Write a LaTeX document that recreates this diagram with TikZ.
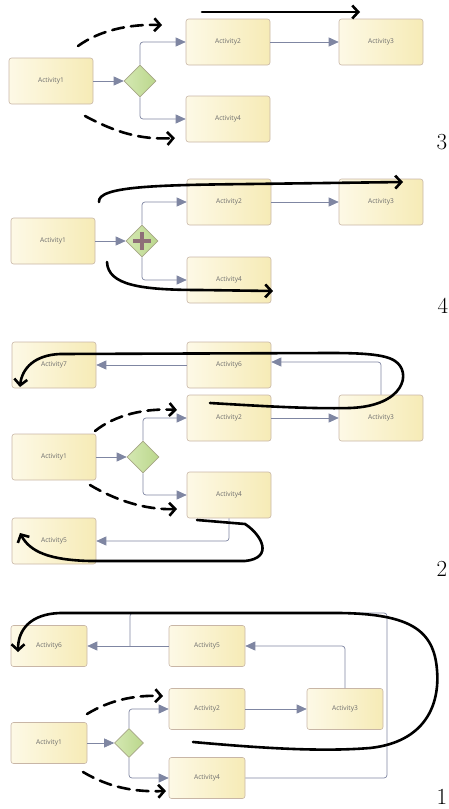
\documentclass[tikz,border=0pt]{standalone}
\usepackage{fontspec}
\usetikzlibrary{shapes.geometric,arrows.meta}
\newfontfamily\actfont{Open Sans}

\definecolor{actleft}{HTML}{FDF9E6}
\definecolor{actright}{HTML}{F6EBB6}
\definecolor{actborder}{HTML}{C8B6A6}
\definecolor{acttext}{HTML}{6C6C6C}
\definecolor{gateleft}{HTML}{D4E8B2}
\definecolor{gateright}{HTML}{BBD78C}
\definecolor{gateborder}{HTML}{A6A686}
\definecolor{flowcol}{HTML}{7F86A2}
\definecolor{pluscol}{HTML}{8E6E78}

\tikzset{
  act/.style={rectangle,rounded corners=2.5pt,draw=actborder,line width=0.6pt,
    left color=actleft,right color=actright,minimum width=84pt,minimum height=46pt,
    inner sep=0pt,font=\actfont\fontsize{6.6}{8}\selectfont,text=acttext},
  gate/.style={diamond,aspect=1,draw=gateborder,line width=0.6pt,
    left color=gateleft,right color=gateright,minimum width=32pt,minimum height=32pt,inner sep=0pt},
  flowline/.style={draw=flowcol,line width=0.7pt,rounded corners=3pt},
  flow/.style={flowline,-{Triangle[length=10pt,width=9pt]}},
  ink/.style={line width=2.6pt,line cap=round,-{Straight Barb[length=6pt,width=13pt]}},
  inkdash/.style={ink,dash pattern=on 12pt off 7pt},
  panelno/.style={font=\fontsize{23}{23}\selectfont}
}

\begin{document}
\begin{tikzpicture}[x=1pt,y=-1pt]
\useasboundingbox (0,0) rectangle (449,809);

% --- 3 ---
\node[act] (p3a1) at (51,81) {Activity1};
\node[gate] (p3gw) at (140,81) {};
\node[act] (p3a2) at (228,42) {Activity2};
\node[act] (p3a3) at (381,42) {Activity3};
\node[act] (p3a4) at (228,119) {Activity4};
\node[panelno] (p3no) at (442,142) {3};

\draw[flow] (p3a1) -- (p3gw);
\draw[flow] (p3gw.north) |- (p3a2.west);
\draw[flow] (p3gw.south) |- (p3a4.west);
\draw[flow] (p3a2) -- (p3a3);

\draw[inkdash] (78,46) .. controls (100,30) and (130,24) .. (162,25);
\draw[inkdash] (85,116) .. controls (115,132) and (140,140) .. (175,138);
\draw[ink] (202,12) -- (360,12);

% --- 4 ---
\node[act] (p4a1) at (53,241) {Activity1};
\node[gate] (p4gw) at (142,241) {};
\node[act] (p4a2) at (229,202) {Activity2};
\node[act] (p4a3) at (381,202) {Activity3};
\node[act] (p4a4) at (229,280) {Activity4};
\node[panelno] (p4no) at (443,306) {4};

\draw[pluscol,line width=3.2pt] (p4gw.center) ++(-9,0) -- ++(18,0);
\draw[pluscol,line width=3.2pt] (p4gw.center) ++(0,-9) -- ++(0,18);

\draw[flow] (p4a1) -- (p4gw);
\draw[flow] (p4gw.north) |- (p4a2.west);
\draw[flow] (p4gw.south) |- (p4a4.west);
\draw[flow] (p4a2) -- (p4a3);

\draw[ink] (99,202) .. controls (97,186) and (160,185) .. (250,184) -- (403,182);
\draw[ink] (107,262) .. controls (108,285) and (140,290) .. (200,290) -- (273,291);

% --- 2 ---
\node[act] (p2a7) at (54,365) {Activity7};
\node[act] (p2a6) at (229,365) {Activity6};
\node[act] (p2a2) at (229,418) {Activity2};
\node[act] (p2a3) at (381,418) {Activity3};
\node[act] (p2a1) at (54,457) {Activity1};
\node[gate] (p2gw) at (143,457) {};
\node[act] (p2a4) at (229,495) {Activity4};
\node[act] (p2a5) at (54,541) {Activity5};
\node[panelno] (p2no) at (442,569) {2};

\draw[flow] (p2a1) -- (p2gw);
\draw[flow] (p2gw.north) |- (p2a2.west);
\draw[flow] (p2gw.south) |- (p2a4.west);
\draw[flow] (p2a2) -- (p2a3);
\draw[flow] (p2a3.north) |- ([yshift=3pt]p2a6.east);
\draw[flow] (p2a6) -- (p2a7);
\draw[flow] (p2a4.south) |- (p2a5.east);

\draw[inkdash] (95,431) .. controls (115,415) and (145,408) .. (177,410);
\draw[inkdash] (90,485) .. controls (115,500) and (145,510) .. (177,509);
\draw[ink] (210,403) .. controls (260,406) and (310,409) .. (350,408)
  .. controls (405,406) and (412,372) .. (395,361)
  .. controls (385,354) and (360,353) .. (330,353) -- (60,354)
  .. controls (35,355) and (22,368) .. (20,387);
\draw[ink] (197,520) -- (245,524) .. controls (262,535) and (274,558) .. (245,561)
  -- (90,561) .. controls (50,560) and (30,552) .. (20,533);

% --- 1 ---
\begin{scope}[act/.append style={minimum width=76pt,minimum height=41pt},
  gate/.append style={minimum width=29pt,minimum height=29pt}]
\node[act] (p1a6) at (49,646) {Activity6};
\node[act] (p1a5) at (207,646) {Activity5};
\node[act] (p1a2) at (207,709) {Activity2};
\node[act] (p1a3) at (345,709) {Activity3};
\node[act] (p1a1) at (49,743) {Activity1};
\node[gate] (p1gw) at (129,743) {};
\node[act] (p1a4) at (207,778) {Activity4};
\end{scope}
\node[panelno] (p1no) at (442,797) {1};
\coordinate (p1c) at (387,613);
\coordinate (p1j) at (130,646);

\draw[flow] (p1a1) -- (p1gw);
\draw[flow] (p1gw.north) |- (p1a2.west);
\draw[flow] (p1gw.south) |- (p1a4.west);
\draw[flow] (p1a2) -- (p1a3);
\draw[flow] (p1a3.north) |- (p1a5.east);
\draw[flow] (p1a5) -- (p1a6);
\draw[flowline] (p1a4.east) -| (p1c) -| (p1j);

\draw[inkdash] (87,714) .. controls (110,700) and (135,695) .. (163,696);
\draw[inkdash] (83,772) .. controls (110,788) and (135,792) .. (166,791);
\draw[ink] (193,742) .. controls (260,748) and (320,752) .. (370,748)
  .. controls (425,742) and (440,705) .. (437,670)
  .. controls (434,630) and (410,614) .. (340,613) -- (60,613)
  .. controls (30,614) and (18,630) .. (18,652);
\end{tikzpicture}
\end{document}
